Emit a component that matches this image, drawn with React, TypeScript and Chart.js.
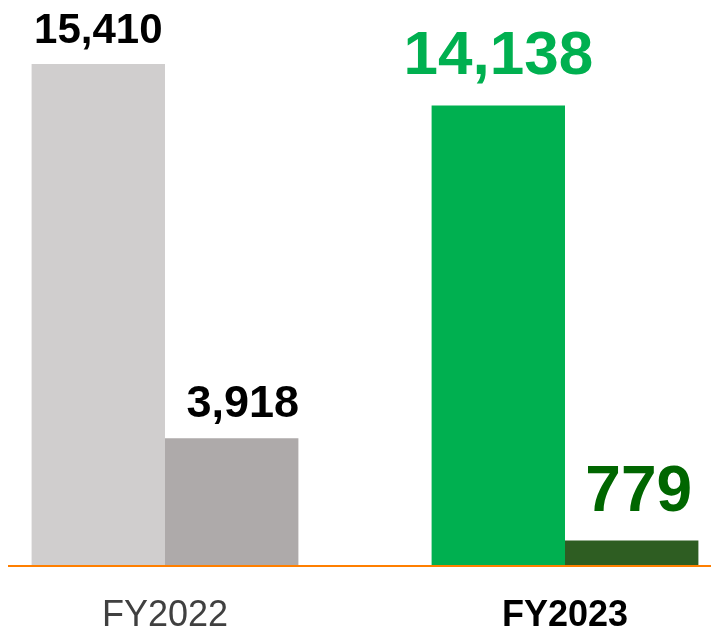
import React, { useEffect, useRef } from "react";
import { Chart, registerables } from "chart.js";

Chart.register(...registerables);

const categories = ["FY2022", "FY2023"];
const seriesA = [15410, 14138];
const seriesB = [3918, 779];
const valueLabelsA = ["15,410", "14,138"];
const valueLabelsB = ["3,918", "779"];

const colorsA = ["#D0CECE", "#00B050"];
const colorsB = ["#AEAAAA", "#2E5D22"];
const labelColorsA = ["#000000", "#00B050"];
const labelColorsB = ["#000000", "#006600"];
const labelSizesA = [42, 62];
const labelSizesB = [45, 64];
const labelGapA = [21, 31];
const labelGapB = [21, 30];
const labelShiftA = [0, 0];
const labelShiftB = [11, 7];

const FONT = "'Liberation Sans', Arial, sans-serif";
const CANVAS_SHIFT = 35;

const labelPlugin = {
  id: "valueLabels",
  afterDatasetsDraw(chart: any) {
    const ctx = chart.ctx;
    const sets = [
      { texts: valueLabelsA, colors: labelColorsA, sizes: labelSizesA, gaps: labelGapA, shifts: labelShiftA },
      { texts: valueLabelsB, colors: labelColorsB, sizes: labelSizesB, gaps: labelGapB, shifts: labelShiftB },
    ];
    const yScale = chart.scales.y;
    const y0 = yScale.getPixelForValue(0);
    ctx.save();
    ctx.strokeStyle = "#FF7F00";
    ctx.lineWidth = 2;
    ctx.beginPath();
    ctx.moveTo(8 + CANVAS_SHIFT, y0);
    ctx.lineTo(chart.width, y0);
    ctx.stroke();
    ctx.restore();

    sets.forEach((s, di) => {
      const meta = chart.getDatasetMeta(di);
      meta.data.forEach((bar: any, i: number) => {
        ctx.save();
        ctx.font = `bold ${s.sizes[i]}px ${FONT}`;
        ctx.fillStyle = s.colors[i];
        ctx.textAlign = "center";
        ctx.textBaseline = "alphabetic";
        ctx.fillText(s.texts[i], bar.x + s.shifts[i], bar.y - s.gaps[i]);
        ctx.restore();
      });
    });
  },
};

export default function App() {
  const ref = useRef<HTMLCanvasElement>(null);
  useEffect(() => {
    if (!ref.current) return;
    const chart = new Chart(ref.current, {
      type: "bar",
      data: {
        labels: categories,
        datasets: [
          { label: "A", data: seriesA, backgroundColor: colorsA, categoryPercentage: 0.667, barPercentage: 1 },
          { label: "B", data: seriesB, backgroundColor: colorsB, categoryPercentage: 0.667, barPercentage: 1 },
        ],
      },
      options: {
        responsive: false,
        animation: false,
        layout: { padding: { left: 0, right: 0, top: 12.2, bottom: 0 } },
        plugins: { legend: { display: false }, tooltip: { enabled: false } },
        scales: {
          x: {
            grid: { display: false, drawTicks: false },
            border: { display: false },
            afterFit: (scale: any) => {
              scale.height = 65;
            },
            ticks: {
              padding: 32,
              font: (c: any) => ({
                family: FONT,
                size: 36,
                lineHeight: 1.0,
                weight: c.index === 1 ? "bold" : "normal",
              }),
              color: (c: any) => (c.index === 1 ? "#000000" : "#404040"),
            },
          },
          y: {
            display: false,
            min: 0,
            max: 17000,
          },
        },
      },
      plugins: [labelPlugin],
    });
    return () => chart.destroy();
  }, []);
  return (
    <div style={{ position: "absolute", left: 0, top: 0, width: 711, height: 631, overflow: "hidden", background: "#fff" }}>
      <canvas ref={ref} width={800} height={631} style={{ position: "absolute", left: -CANVAS_SHIFT, top: 0 }} />
    </div>
  );
}
